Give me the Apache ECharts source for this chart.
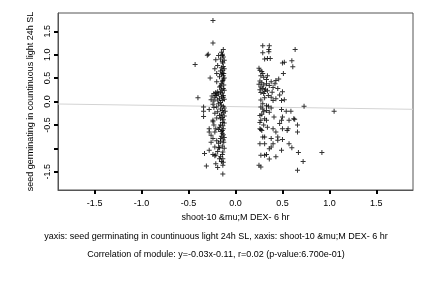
<!DOCTYPE html>
<html>
<head>
<meta charset="utf-8">
<script src="https://cdn.jsdelivr.net/npm/echarts@6/dist/echarts.min.js"></script>
<style>
  html, body { margin: 0; padding: 0; background: #fff; }
  #main { width: 432px; height: 288px; }
</style>
</head>
<body>
<div id="main"></div>
<script>
// x: shoot-10 DEX 6 hr, y: seed germinating (24h SL)
let leftPoints = [
  [-0.24, 1.73], [-0.24, 1.25], [-0.13, 1.11], [-0.14, 1.01], [-0.29, 1.01], [-0.30, 0.99],
  [-0.16, 0.91], [-0.21, 0.89], [-0.43, 0.79], [-0.135, 0.82], [-0.13, 0.75], [-0.19, 0.77],
  [-0.15, 0.72], [-0.135, 0.67], [-0.14, 0.61], [-0.125, 0.60], [-0.27, 0.50], [-0.17, 0.53],
  [-0.20, 0.42], [-0.15, 0.38], [-0.135, 0.45], [-0.17, 0.31], [-0.125, 0.35], [-0.40, 0.08],
  [-0.25, 0.12], [-0.23, 0.17], [-0.21, 0.19], [-0.19, 0.21], [-0.22, 0.08], [-0.20, 0.14],
  [-0.18, 0.16], [-0.16, 0.20], [-0.14, 0.18], [-0.13, 0.13], [-0.15, 0.10], [-0.17, 0.06],
  [-0.12, 0.05], [-0.14, 0.02], [-0.19, 0.03], [-0.23, 0.01], [-0.26, 0.04], [-0.16, -0.02],
  [-0.13, 0.09], [-0.21, 0.13], [-0.34, -0.12], [-0.34, -0.21], [-0.34, -0.32], [-0.28, -0.17],
  [-0.23, -0.13], [-0.24, -0.06], [-0.18, -0.05], [-0.15, -0.08], [-0.13, -0.10], [-0.12, -0.14],
  [-0.16, -0.16], [-0.14, -0.19], [-0.19, -0.22], [-0.13, -0.24], [-0.15, -0.27], [-0.17, -0.30],
  [-0.12, -0.31], [-0.14, -0.34], [-0.16, -0.37], [-0.13, -0.39], [-0.20, -0.12], [-0.11, -0.21],
  [-0.24, -0.43], [-0.12, -0.46], [-0.135, -0.52], [-0.17, -0.55], [-0.28, -0.58], [-0.28, -0.65],
  [-0.22, -0.65], [-0.21, -0.58], [-0.26, -0.72], [-0.125, -0.87], [-0.14, -0.68], [-0.13, -0.71],
  [-0.15, -0.74], [-0.12, -0.77], [-0.16, -0.79], [-0.14, -0.62], [-0.18, -0.60], [-0.18, -0.89],
  [-0.26, -0.87], [-0.24, -0.79], [-0.18, -0.99], [-0.33, -1.11], [-0.28, -1.04], [-0.24, -1.13],
  [-0.22, -1.16], [-0.21, -1.14], [-0.135, -1.08], [-0.17, -1.22], [-0.15, -1.28], [-0.135, -1.22],
  [-0.31, -1.38], [-0.21, -1.33], [-0.19, -1.41], [-0.135, -1.36], [-0.135, -1.55], [-0.17, -0.99],
  [-0.14, -0.95], [-0.12, -1.00], [-0.13, 0.95], [-0.12, 0.88], [-0.14, 0.85], [-0.12, 0.70],
  [-0.13, 0.55], [-0.12, 0.50], [-0.14, 0.42], [-0.13, 0.28], [-0.15, 0.25], [-0.12, 0.24],
  [-0.15, 1.05], [-0.14, 0.98], [-0.16, 0.65], [-0.15, 0.58], [-0.13, 0.48], [-0.16, 0.33],
  [-0.14, -0.45], [-0.16, -0.50], [-0.13, -0.58], [-0.15, -0.64], [-0.13, -0.82], [-0.16, -0.86],
  [-0.14, -1.13], [-0.16, -1.18], [-0.13, -1.30], [-0.20, -0.84], [-0.22, -0.97], [-0.19, -1.07],
  [-0.23, -0.50], [-0.20, -0.35], [-0.22, -0.25], [-0.20, 0.60], [-0.22, 0.70], [-0.18, 0.98],
  [-0.24, -0.40]
]

let rightPoints = [
  [0.29, 1.19], [0.36, 1.19], [0.355, 1.11], [0.355, 1.06], [0.29, 1.04], [0.31, 0.91],
  [0.34, 0.92], [0.37, 0.92], [0.635, 1.11], [0.60, 0.87], [0.61, 0.74], [0.50, 0.82],
  [0.52, 0.84], [0.51, 0.60], [0.25, 0.71], [0.26, 0.67], [0.28, 0.64], [0.29, 0.60],
  [0.27, 0.55], [0.30, 0.52], [0.34, 0.55], [0.33, 0.47], [0.43, 0.45], [0.26, 0.44],
  [0.28, 0.40], [0.25, 0.37], [0.30, 0.35], [0.27, 0.31], [0.29, 0.28], [0.26, 0.25],
  [0.31, 0.22], [0.27, 0.19], [0.30, 0.17], [0.33, 0.38], [0.32, 0.26], [0.36, 0.34],
  [0.40, 0.30], [0.45, 0.28], [0.34, 0.23], [0.39, 0.20], [0.50, 0.21], [0.47, 0.14],
  [0.43, 0.06], [0.49, 0.02], [0.52, 0.04], [0.38, 0.09], [0.40, 0.02], [0.29, -0.05],
  [0.33, -0.09], [0.73, -0.10], [0.35, 0.13], [0.31, 0.08], [0.27, 0.03], [0.42, 0.38],
  [0.38, 0.42], [0.46, 0.48], [0.29, -0.16], [0.33, -0.19], [0.36, -0.23], [0.49, -0.17],
  [0.54, -0.21], [0.59, -0.21], [1.05, -0.21], [0.26, -0.30], [0.27, -0.40], [0.31, -0.37],
  [0.33, -0.40], [0.41, -0.33], [0.50, -0.33], [0.49, -0.40], [0.47, -0.47], [0.57, -0.40],
  [0.62, -0.37], [0.63, -0.38], [0.66, -0.50], [0.66, -0.65], [0.26, -0.58], [0.27, -0.60],
  [0.34, -0.55], [0.40, -0.58], [0.43, -0.65], [0.45, -0.76], [0.50, -0.58], [0.56, -0.58],
  [0.55, -0.62], [0.29, -0.76], [0.31, -0.76], [0.38, -0.79], [0.45, -0.83], [0.50, -0.81],
  [0.26, -0.90], [0.31, -0.90], [0.40, -0.90], [0.38, -0.97], [0.57, -0.90], [0.60, -0.99],
  [0.36, -1.01], [0.49, -1.04], [0.27, -1.15], [0.31, -1.15], [0.33, -1.13], [0.43, -1.18],
  [0.36, -1.23], [0.67, -1.09], [0.92, -1.09], [0.72, -1.28], [0.25, -1.36], [0.27, -1.40],
  [0.66, -1.47], [0.27, -0.12], [0.30, -0.22], [0.28, -0.27], [0.26, -0.45], [0.30, -0.50],
  [0.28, -0.62], [0.35, -0.10], [0.38, -0.14]
]

let tickValues = [-1.5, -1.0, -0.5, 0.0, 0.5, 1.0, 1.5]
let axisRange = [-1.89, 1.89]
let fitSlope = -0.03
let fitIntercept = -0.11

let xName = 'shoot-10 &mu;M DEX- 6 hr'
let yName = 'seed germinating in countinuous light 24h SL'
let footer1 = 'yaxis: seed germinating in countinuous light 24h SL, xaxis: shoot-10 &mu;M DEX- 6 hr'
let footer2 = 'Correlation of module: y=-0.03x-0.11, r=0.02 (p-value:6.700e-01)'

let font = 'Liberation Sans'
let plus = 'path://M0,2h5v1h-5zM2,0h1v5h-1z'

let fitLine = axisRange.map(x => [x, fitSlope * x + fitIntercept])

let myChart = echarts.init(document.getElementById('main'))

let option = {
    animation: false,
    title: [{
            text: footer1,
            left: 'center',
            top: 227,
            textStyle: { fontSize: 9, fontWeight: 'normal', color: '#000', fontFamily: font }
        },
        {
            text: footer2,
            left: 'center',
            top: 245,
            textStyle: { fontSize: 9, fontWeight: 'normal', color: '#000', fontFamily: font }
        }
    ],
    grid: {
        left: 58,
        top: 13,
        right: 19,
        bottom: 98,
        show: true,
        borderColor: '#555'
    },
    xAxis: {
        type: 'value',
        min: axisRange[0],
        max: axisRange[1],
        name: xName,
        nameLocation: 'middle',
        nameGap: 20,
        nameTextStyle: { fontSize: 9, color: '#000', fontFamily: font },
        axisLine: { show: true, onZero: false, lineStyle: { color: '#555' } },
        splitLine: { show: false },
        axisTick: { show: true, length: 4, lineStyle: { color: '#000', width: 2 }, customValues: tickValues },
        axisLabel: {
            fontSize: 9,
            color: '#000',
            fontFamily: font,
            margin: 9,
            customValues: tickValues,
            formatter: v => v.toFixed(1)
        }
    },
    yAxis: {
        type: 'value',
        min: axisRange[0],
        max: axisRange[1],
        name: yName,
        nameLocation: 'middle',
        nameGap: 17,
        nameTextStyle: { fontSize: 9, color: '#000', fontFamily: font },
        axisLine: { show: true, onZero: false, lineStyle: { color: '#555' } },
        splitLine: { show: false },
        axisTick: { show: true, length: 4, lineStyle: { color: '#000', width: 2 }, customValues: tickValues },
        axisLabel: {
            fontSize: 9,
            color: '#000',
            fontFamily: font,
            rotate: 90,
            margin: 6,
            customValues: tickValues,
            // R drops the -1.0 label here
            formatter: v => (v === -1 ? '' : v.toFixed(1))
        }
    },
    series: [{
            type: 'line',
            data: fitLine,
            symbol: 'none',
            lineStyle: { color: '#d3d3d3', width: 1 },
            z: 1
        },
        {
            type: 'scatter',
            data: leftPoints.concat(rightPoints),
            symbol: plus,
            symbolSize: 5,
            itemStyle: { color: '#000' },
            z: 2
        }
    ]
}

myChart.setOption(option)
</script>
</body>
</html>
